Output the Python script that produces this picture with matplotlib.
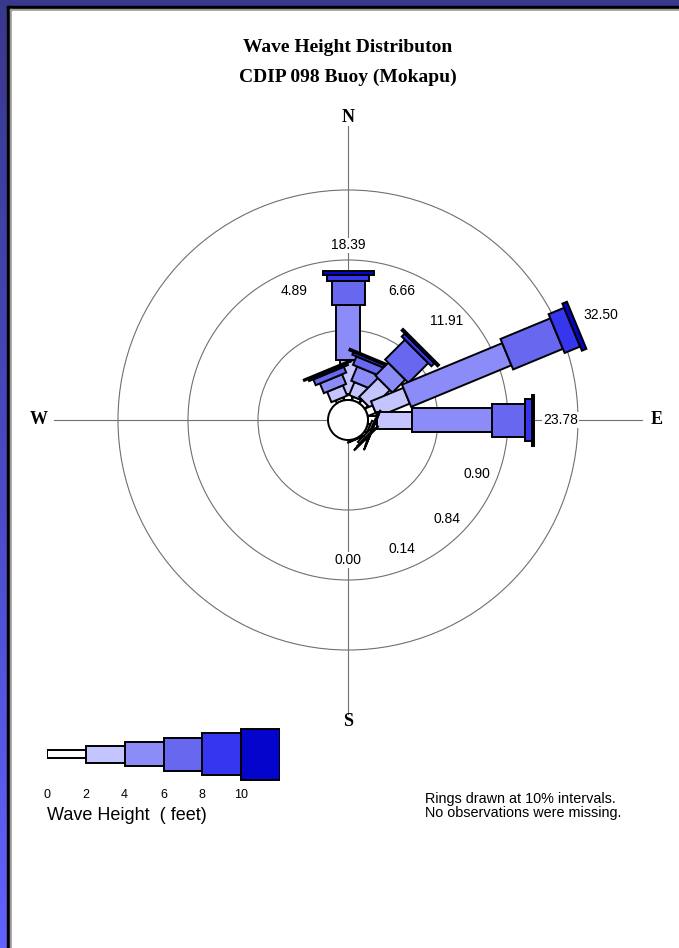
import numpy as np
import matplotlib
matplotlib.use("Agg")
import matplotlib.pyplot as plt
from matplotlib.patches import Polygon, Circle, Rectangle

# ------------------------------------------------------------------
# Data: percent of observations per direction and wave height band
# ------------------------------------------------------------------
directions = ["N", "NNE", "NE", "ENE", "E", "ESE", "SE", "SSE",
              "S", "SSW", "SW", "WSW", "W", "WNW", "NW", "NNW"]

band_labels = ["0", "2", "4", "6", "8", "10"]          # band lower edges (feet)

pct_0_2 = [0.80, 0.50, 0.60, 1.20, 1.30, 0.35, 0.35, 0.08, 0, 0, 0, 0, 0, 0, 0, 0.40]
pct_2_4 = [4.90, 2.00, 3.80, 5.00, 5.00, 0.35, 0.35, 0.06, 0, 0, 0, 0, 0, 0, 0, 1.60]
pct_4_6 = [7.90, 2.20, 2.60, 15.50, 11.40, 0.12, 0.10, 0.00, 0, 0, 0, 0, 0, 0, 0, 1.50]
pct_6_8 = [3.40, 1.30, 4.00, 7.70, 4.70, 0.06, 0.04, 0.00, 0, 0, 0, 0, 0, 0, 0, 0.90]
pct_8_10 = [0.80, 0.40, 0.60, 2.40, 1.00, 0.02, 0.00, 0.00, 0, 0, 0, 0, 0, 0, 0, 0.30]
pct_10_up = [0.59, 0.26, 0.31, 0.70, 0.38, 0.00, 0.00, 0.00, 0, 0, 0, 0, 0, 0, 0, 0.19]

# sectors that carry a percentage label
labeled = ["N", "NNE", "NE", "ENE", "E", "ESE", "SE", "SSE", "S", "NNW"]

ring_pcts = [10, 20, 30]

# ------------------------------------------------------------------
# Styling
# ------------------------------------------------------------------
W_PX, H_PX = 679, 948
PX = 7.0                      # pixels per percent
CALM_R = 20.0 / PX            # calm circle radius (in percent units)
band_colors = ["#ffffff", "#c4c4ff", "#8c8cf8", "#6767f0", "#3636ee", "#0404cc"]
band_width_px = [8, 17, 24, 33, 42, 51]
serif = ["Liberation Serif", "DejaVu Serif"]
sans = ["Liberation Sans", "DejaVu Sans"]

bands = np.array([pct_0_2, pct_2_4, pct_4_6, pct_6_8, pct_8_10, pct_10_up])
totals = bands.sum(axis=0)
cum = np.vstack([np.zeros(len(directions)), np.cumsum(bands, axis=0)])

fig = plt.figure(figsize=(W_PX / 100, H_PX / 100), dpi=100)

# ------------------------------------------------------------------
# Frame: blue border with black edge around a white page
# ------------------------------------------------------------------
bg = fig.add_axes([0, 0, 1, 1])
bg.set_xlim(0, W_PX)
bg.set_ylim(H_PX, 0)
bg.axis("off")
grad = np.linspace(0, 1, 256).reshape(-1, 1)
bg.imshow(grad, extent=[0, 8, H_PX, 0], aspect="auto",
          cmap=matplotlib.colors.LinearSegmentedColormap.from_list(
              "edge", ["#38388c", "#4a4ac4", "#6262ff"]), zorder=0)
bg.add_patch(Rectangle((0, 0), W_PX, 6, color="#38388c", zorder=1))
bg.add_patch(Rectangle((7, 6), W_PX, 3, color="black", zorder=2))
bg.add_patch(Rectangle((7, 6), 3, H_PX, color="black", zorder=2))
bg.add_patch(Rectangle((10, 9), W_PX, 2, color="#9a9a9a", zorder=2))
bg.add_patch(Rectangle((10, 9), 2, H_PX, color="#9a9a9a", zorder=2))
bg.add_patch(Rectangle((12, 11), W_PX, H_PX, color="white", zorder=2))

fig.text(348 / W_PX, 1 - 47 / H_PX, "Wave Height Distributon", ha="center",
         va="center", fontsize=14, fontweight="bold", family=serif)
fig.text(348 / W_PX, 1 - 77 / H_PX, "CDIP 098 Buoy (Mokapu)", ha="center",
         va="center", fontsize=14, fontweight="bold", family=serif)

# ------------------------------------------------------------------
# Rose axes, unit = 1 percent
# ------------------------------------------------------------------
cx, cy, half = 348, 420, 330
ax = fig.add_axes([(cx - half) / W_PX, (H_PX - cy - half) / H_PX,
                   2 * half / W_PX, 2 * half / H_PX])
lim = half / PX
ax.set_xlim(-lim, lim)
ax.set_ylim(-lim, lim)
ax.axis("off")

for p in ring_pcts:
    ax.add_patch(Circle((0, 0), CALM_R + p, fill=False, ec="#707070", lw=0.8, zorder=1))

arm = 294 / PX
ax.plot([-arm, arm], [0, 0], color="#707070", lw=0.8, zorder=1)
ax.plot([0, 0], [-arm, arm], color="#707070", lw=0.8, zorder=1)
for name, (x, y) in {"N": (0, 1), "S": (0, -1), "W": (-1, 0), "E": (1, 0)}.items():
    off = 302 / PX if y else 309 / PX
    ax.text(x * off, y * off, name, ha="center", va="center",
            fontsize=13, fontweight="bold", family=serif)

for i, d in enumerate(directions):
    th = np.deg2rad(22.5 * i)
    u = np.array([np.sin(th), np.cos(th)])
    v = np.array([np.cos(th), -np.sin(th)])
    for b in range(6):
        if bands[b, i] <= 0:
            continue
        r0 = CALM_R + cum[b, i]
        r1 = CALM_R + cum[b + 1, i]
        w = band_width_px[b] / PX / 2
        pts = [r0 * u - w * v, r1 * u - w * v, r1 * u + w * v, r0 * u + w * v]
        ax.add_patch(Polygon(pts, closed=True, fc=band_colors[b], ec="black",
                             lw=1.4, joinstyle="miter", zorder=3 + i * 0.01))

ax.add_patch(Circle((0, 0), CALM_R, fc="white", ec="black", lw=1.4, zorder=5))

for i, d in enumerate(directions):
    if d not in labeled:
        continue
    th = np.deg2rad(22.5 * i)
    rl = max(CALM_R + totals[i] + 26 / PX, 140 / PX)
    ax.text(rl * np.sin(th), rl * np.cos(th), f"{totals[i]:.2f}",
            ha="center", va="center", fontsize=10, family=sans, zorder=6,
            bbox=dict(fc="white", ec="none", pad=0.5))

# ------------------------------------------------------------------
# Legend bar, x in feet
# ------------------------------------------------------------------
lx0, lx1, ly = 47, 280, 754
leg = fig.add_axes([lx0 / W_PX, (H_PX - ly - 45) / H_PX,
                    (lx1 - lx0) / W_PX, 90 / H_PX])
leg.set_xlim(0, 12)
leg.set_ylim(-45, 45)
leg.axis("off")
edges = [float(s) for s in band_labels] + [12.0]
for b in range(6):
    h = band_width_px[b]
    leg.add_patch(Rectangle((edges[b], -h / 2), edges[b + 1] - edges[b], h,
                            fc=band_colors[b], ec="black", lw=1.4, zorder=3 - b * 0.1))
for b, s in enumerate(band_labels):
    leg.text(edges[b], -41, s, ha="center", va="center", fontsize=9, family=sans)

fig.text(47 / W_PX, 1 - 815 / H_PX, "Wave Height  ( feet)", ha="left",
         va="center", fontsize=13, family=sans)
fig.text(425 / W_PX, 1 - 806 / H_PX,
         "Rings drawn at 10% intervals.\nNo observations were missing.",
         ha="left", va="center", fontsize=10.4, family=sans, linespacing=0.95)

fig.savefig("out.png", dpi=100)
